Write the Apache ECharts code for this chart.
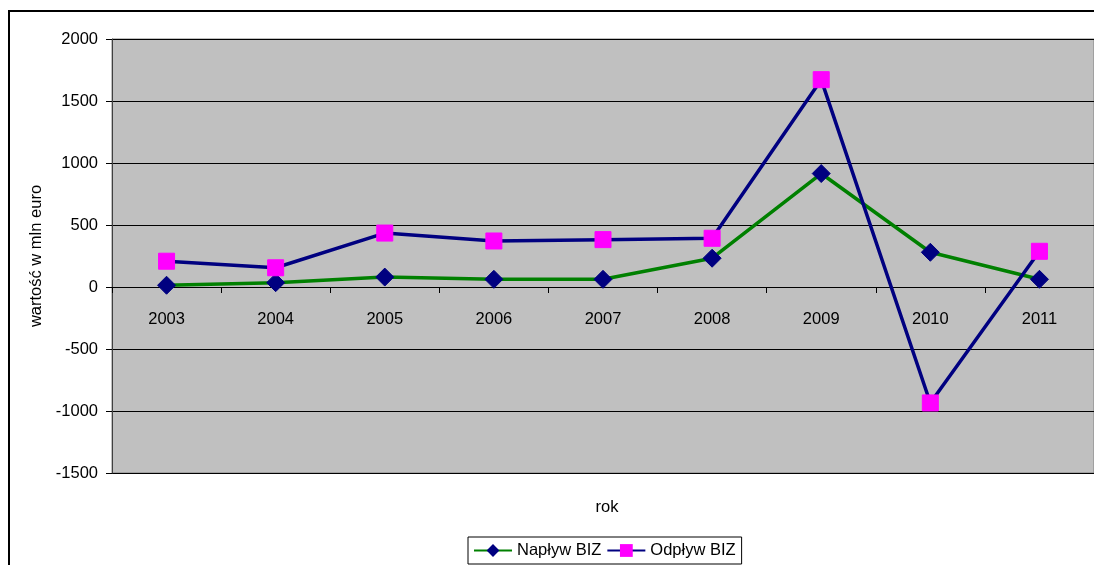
<!DOCTYPE html>
<html>
<head>
<meta charset="utf-8">
<script src="https://cdn.jsdelivr.net/npm/echarts@6/dist/echarts.min.js"></script>
<style>
  html, body { margin: 0; padding: 0; background: #fff; }
  #chart { width: 1094px; height: 565px; }
</style>
</head>
<body>
<div id="chart"></div>
<script>
const lata = ["2003", "2004", "2005", "2006", "2007", "2008", "2009", "2010", "2011"];
const naplyw = [14, 35, 80, 62, 62, 232, 915, 280, 62];
const odplyw = [208, 155, 435, 371, 382, 393, 1672, -935, 288];

const font = "Liberation Sans, Arial, sans-serif";
const chart = echarts.init(document.getElementById("chart"), null, { renderer: "canvas" });

// the zero line sits 2000/3500 of the plot height below the top
const plotTop = 39, plotH = 434;
const zeroOffset = -Math.round(plotH * 1500 / 3500);

const option = {
  animation: false,
  textStyle: { fontFamily: font },
  graphic: [
    {
      type: "rect",
      shape: { x: 9, y: 11, width: 1200, height: 700 },
      style: { fill: "none", stroke: "#000", lineWidth: 2 },
      z: -1
    },
    {
      type: "text",
      x: 607,
      y: 507,
      style: {
        text: "rok",
        fontSize: 16.5,
        fontFamily: font,
        fill: "#000",
        align: "center",
        verticalAlign: "middle"
      }
    }
  ],
  grid: {
    left: 112,
    top: plotTop,
    width: 990,
    height: plotH,
    show: true,
    backgroundColor: "#C0C0C0",
    borderColor: "#808080",
    borderWidth: 1
  },
  legend: {
    left: 468,
    top: 537,
    data: ["Napływ BIZ", "Odpływ BIZ"],
    itemWidth: 38,
    itemHeight: 16,
    itemGap: 5,
    padding: [5, 6, 5, 5],
    borderColor: "#000",
    borderWidth: 1,
    textStyle: { fontSize: 16.5, color: "#000", fontFamily: font }
  },
  xAxis: {
    type: "category",
    data: lata,
    boundaryGap: true,
    position: "bottom",
    offset: zeroOffset,
    axisLine: { onZero: false, lineStyle: { color: "#000", width: 1 } },
    axisTick: { show: true, length: 6, lineStyle: { color: "#000" } },
    axisLabel: { fontSize: 16.5, color: "#000", margin: 24, fontFamily: font },
    splitLine: { show: false }
  },
  yAxis: {
    type: "value",
    min: -1500,
    max: 2000,
    interval: 500,
    name: "wartość w mln euro",
    nameLocation: "middle",
    nameRotate: 90,
    nameGap: 63,
    nameTextStyle: { fontSize: 16.5, color: "#000", fontFamily: font },
    axisLine: { show: true, lineStyle: { color: "#404040", width: 1 } },
    axisTick: { show: true, length: 6, lineStyle: { color: "#000" } },
    axisLabel: {
      fontSize: 16.5,
      color: "#000",
      margin: 14,
      fontFamily: font,
      formatter: (v) => String(v)
    },
    splitLine: { show: true, lineStyle: { color: "#000", width: 1 } }
  },
  series: [
    {
      name: "Napływ BIZ",
      type: "line",
      data: naplyw,
      symbol: "diamond",
      symbolSize: 18,
      lineStyle: { color: "#008000", width: 3.5 },
      itemStyle: { color: "#000080", borderColor: "#000080" }
    },
    {
      name: "Odpływ BIZ",
      type: "line",
      data: odplyw,
      symbol: "rect",
      symbolSize: 16,
      lineStyle: { color: "#000080", width: 3.5 },
      itemStyle: { color: "#FF00FF", borderColor: "#FF00FF" }
    }
  ]
};

chart.setOption(option);
window.addEventListener("resize", () => chart.resize());
</script>
</body>
</html>
